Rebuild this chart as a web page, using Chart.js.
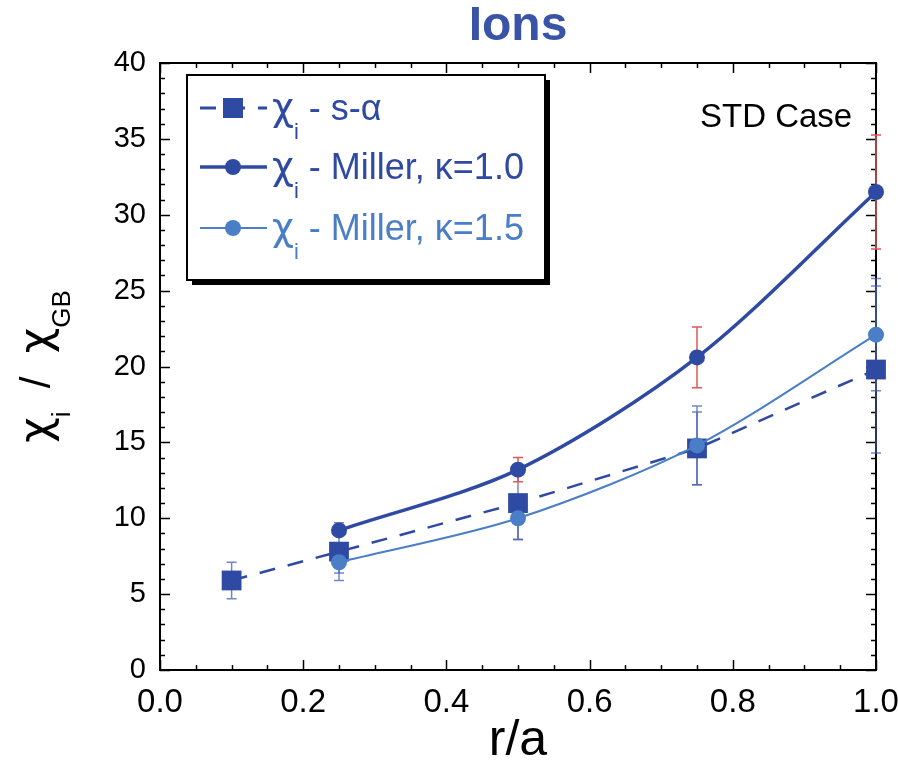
<!DOCTYPE html>
<html>
<head>
<meta charset="utf-8">
<script src="https://cdn.jsdelivr.net/npm/chart.js@4.4.1/dist/chart.umd.min.js"></script>
<style>
  html, body { margin: 0; padding: 0; background: #fff; }
</style>
</head>
<body>
<canvas id="myChart" width="898" height="767"></canvas>
<script>
// r/a positions
var rSA = [0.1, 0.25, 0.5, 0.75, 1.0];
var rMiller = [0.25, 0.5, 0.75, 1.0];

// chi_i / chi_GB values and error half-widths
var chiSA = [5.9, 7.8, 11.0, 14.6, 19.8];
var errSA = [1.2, 1.9, 2.4, 2.4, 5.5];
var chiM10 = [9.2, 13.2, 20.6, 31.5];
var errM10 = [0, 0.8, 2.0, 3.75];
var chiM15 = [7.1, 10.0, 14.8, 22.1];
var errM15 = [0.7, 1.4, 2.6, 3.7];

var xTicks = [0.0, 0.2, 0.4, 0.6, 0.8, 1.0];
var yTicks = [0, 5, 10, 15, 20, 25, 30, 35, 40];

var darkBlue = '#2f4aa3';
var lightBlue = '#4a7ec6';
var errBlue = 'rgba(70, 92, 178, 0.75)';
var errRed = '#e0575a';
var FONT = '"Liberation Sans", Arial, sans-serif';
var GREEK = '"DejaVu Sans", sans-serif';

function pairs(xs, ys) {
    return xs.map(function (x, i) { return { x: x, y: ys[i] }; });
}

// draws text pieces one after another (used for subscripts)
function richText(c, parts, x, y) {
    parts.forEach(function (p) {
        c.font = p.font;
        c.fillText(p.t, x, y + (p.dy || 0));
        x += c.measureText(p.t).width;
    });
    return x;
}
function richWidth(c, parts) {
    var w = 0;
    parts.forEach(function (p) { c.font = p.font; w += c.measureText(p.t).width; });
    return w;
}

// frame, inner ticks and error bars go under the data lines
var underlay = {
    id: 'underlay',
    beforeDatasetsDraw: function (chart) {
        var c = chart.ctx, a = chart.chartArea, xs = chart.scales.x, ys = chart.scales.y;
        c.save();
        c.strokeStyle = '#000';
        c.lineWidth = 2;
        c.strokeRect(a.left, a.top, a.right - a.left, a.bottom - a.top);
        c.lineWidth = 1.5;
        c.beginPath();
        for (var v = 0; v <= 40; v++) {
            var py = Math.round(ys.getPixelForValue(v)) + 0.5;
            var len = v % 5 === 0 ? 10 : 5;
            c.moveTo(a.left, py); c.lineTo(a.left + len, py);
            c.moveTo(a.right, py); c.lineTo(a.right - len, py);
        }
        for (var k = 0; k <= 20; k++) {
            var px = Math.round(xs.getPixelForValue(k * 0.05)) + 0.5;
            var l2 = k % 4 === 0 ? 10 : 5;
            c.moveTo(px, a.bottom); c.lineTo(px, a.bottom - l2);
            c.moveTo(px, a.top); c.lineTo(px, a.top + l2);
        }
        c.stroke();
        c.restore();

        function bars(rs, vals, errs, color) {
            c.save();
            c.strokeStyle = color;
            c.lineWidth = 1.5;
            rs.forEach(function (r, i) {
                if (!errs[i]) return;
                var px = xs.getPixelForValue(r);
                var top = ys.getPixelForValue(vals[i] + errs[i]);
                var bot = ys.getPixelForValue(vals[i] - errs[i]);
                c.beginPath();
                c.moveTo(px, top); c.lineTo(px, bot);
                c.moveTo(px - 5, top); c.lineTo(px + 5, top);
                c.moveTo(px - 5, bot); c.lineTo(px + 5, bot);
                c.stroke();
            });
            c.restore();
        }
        bars(rSA, chiSA, errSA, errBlue);
        bars(rMiller, chiM15, errM15, errBlue);
        bars(rMiller, chiM10, errM10, errRed);
    }
};

var overlay = {
    id: 'overlay',
    afterDraw: function (chart) {
        var c = chart.ctx, a = chart.chartArea;
        c.save();

        // y axis title  chi_i / chi_GB
        var big = '42px ' + FONT, sub = '26px ' + FONT;
        var yTitle = [
            { t: 'χ', font: '44px ' + GREEK }, { t: 'i', font: sub, dy: 20 },
            { t: '  /  ', font: big },
            { t: 'χ', font: '44px ' + GREEK }, { t: 'GB', font: sub, dy: 20 }
        ];
        var w = richWidth(c, yTitle);
        var cy = (a.top + a.bottom) / 2;
        c.fillStyle = '#000';
        c.textBaseline = 'alphabetic';
        c.save();
        c.translate(50, cy + w / 2);
        c.rotate(-Math.PI / 2);
        richText(c, yTitle, 0, 0);
        c.restore();

        // case label
        c.font = '33px ' + FONT;
        c.fillText('STD Case', a.left + 540, a.top + 64);

        // legend box
        var bx = a.left + 27, by = a.top + 12, bw = 358, bh = 205;
        c.fillStyle = '#000';
        c.fillRect(bx + 5, by + 5, bw, bh);
        c.fillStyle = '#fff';
        c.fillRect(bx, by, bw, bh);
        c.strokeStyle = '#000';
        c.lineWidth = 2;
        c.strokeRect(bx, by, bw, bh);

        var rows = [
            { label: ' - s-α', color: darkBlue, dash: [16, 13], lw: 3, style: 'rect', cy: a.top + 45 },
            { label: ' - Miller, κ=1.0', color: darkBlue, dash: [], lw: 3.5, style: 'circle', cy: a.top + 104 },
            { label: ' - Miller, κ=1.5', color: lightBlue, dash: [], lw: 2, style: 'circle', cy: a.top + 165 }
        ];
        rows.forEach(function (row) {
            c.save();
            c.strokeStyle = row.color;
            c.fillStyle = row.color;
            c.lineWidth = row.lw;
            c.setLineDash(row.dash);
            c.beginPath();
            c.moveTo(a.left + 40, row.cy);
            c.lineTo(a.left + 107, row.cy);
            c.stroke();
            c.setLineDash([]);
            var mx = a.left + 73;
            if (row.style === 'rect') {
                c.fillRect(mx - 10, row.cy - 10, 20, 20);
            } else {
                c.beginPath();
                c.arc(mx, row.cy, 8, 0, Math.PI * 2);
                c.fill();
            }
            richText(c, [
                { t: 'χ', font: '38px ' + GREEK },
                { t: 'i', font: '22px ' + FONT, dy: 19 },
                { t: row.label, font: '36px ' + FONT }
            ], a.left + 112, row.cy + 12);
            c.restore();
        });
        c.restore();
    }
};

var ctx = document.getElementById('myChart').getContext('2d');
var chart = new Chart(ctx, {
    type: 'scatter',
    data: {
        datasets: [
            {
                label: 'χi - Miller, κ=1.5',
                data: pairs(rMiller, chiM15),
                showLine: true,
                tension: 0.3,
                borderColor: lightBlue,
                backgroundColor: lightBlue,
                borderWidth: 2,
                pointRadius: 8,
                pointBorderWidth: 0,
                clip: false,
                order: 0
            },
            {
                label: 'χi - Miller, κ=1.0',
                data: pairs(rMiller, chiM10),
                showLine: true,
                tension: 0.3,
                borderColor: darkBlue,
                backgroundColor: darkBlue,
                borderWidth: 3.5,
                pointRadius: 8,
                pointBorderWidth: 0,
                clip: false,
                order: 1
            },
            {
                label: 'χi - s-α',
                data: pairs(rSA, chiSA),
                showLine: true,
                borderColor: darkBlue,
                backgroundColor: darkBlue,
                borderWidth: 2.5,
                borderDash: [16, 13],
                pointStyle: 'rect',
                pointRadius: 14,
                pointBorderWidth: 0,
                clip: false,
                order: 2
            }
        ]
    },
    options: {
        responsive: false,
        animation: false,
        layout: { padding: { top: 0, right: 22, bottom: 0, left: 0 }, autoPadding: false },
        plugins: {
            legend: { display: false },
            tooltip: { enabled: false },
            title: {
                display: true,
                text: 'Ions',
                color: '#3953a8',
                fullSize: false,
                font: { family: FONT, size: 48, weight: 'bold', lineHeight: 1 },
                padding: { top: 3, bottom: 12 }
            }
        },
        scales: {
            x: {
                type: 'linear',
                min: 0,
                max: 1,
                afterBuildTicks: function (s) { s.ticks = xTicks.map(function (v) { return { value: v }; }); },
                afterFit: function (s) { s.height = 97; s.paddingLeft = 0; s.paddingRight = 0; },
                grid: { display: false },
                border: { display: false },
                ticks: {
                    color: '#000',
                    padding: 5,
                    maxRotation: 0,
                    font: { family: FONT, size: 33 },
                    callback: function (v) { return v.toFixed(1); }
                },
                title: {
                    display: true,
                    text: 'r/a',
                    color: '#000',
                    font: { family: FONT, size: 50, lineHeight: 1 },
                    padding: { top: 0, bottom: 1 }
                }
            },
            y: {
                type: 'linear',
                min: 0,
                max: 40,
                afterBuildTicks: function (s) { s.ticks = yTicks.map(function (v) { return { value: v }; }); },
                afterFit: function (s) { s.width = 160; s.paddingTop = 0; s.paddingBottom = 0; },
                grid: { display: false },
                border: { display: false },
                ticks: {
                    color: '#000',
                    padding: 6,
                    font: { family: FONT, size: 29 }
                }
            }
        }
    },
    plugins: [underlay, overlay]
});
</script>
</body>
</html>
